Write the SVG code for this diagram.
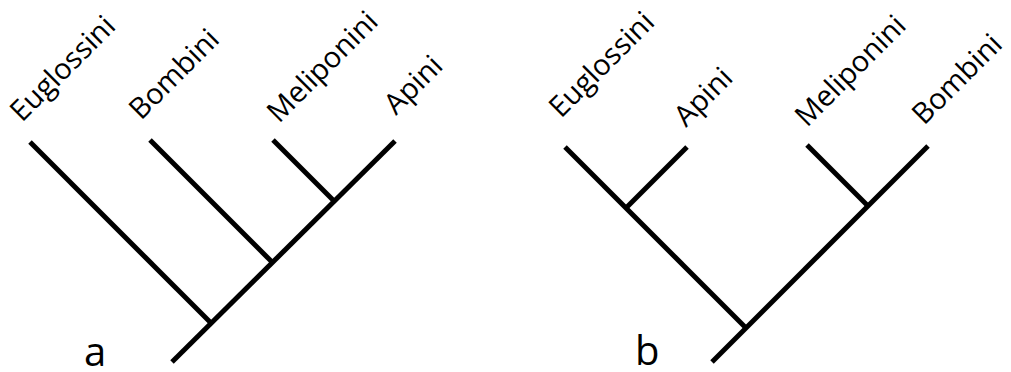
<svg xmlns="http://www.w3.org/2000/svg" width="1011" height="372" viewBox="0 0 1011 372">
<style>
.br{stroke:#000;stroke-width:5;fill:none;stroke-linecap:butt}
.lb{font-family:"Open Sans","Liberation Sans",sans-serif;font-size:29px;fill:#000}
.tl{font-family:"Open Sans","Liberation Sans",sans-serif;font-size:40px;fill:#000}
</style>
<rect width="1011" height="372" fill="#fff"/>
<g id="connectors">
<line class="br" x1="395" y1="141" x2="172" y2="362"/>
<line class="br" x1="30" y1="142" x2="211" y2="323"/>
<line class="br" x1="150" y1="140" x2="272" y2="262"/>
<line class="br" x1="273" y1="140" x2="334" y2="201"/>
<line class="br" x1="928" y1="146" x2="712" y2="362"/>
<line class="br" x1="565" y1="147" x2="746" y2="328"/>
<line class="br" x1="687" y1="147" x2="626" y2="208"/>
<line class="br" x1="807" y1="145" x2="868" y2="206"/>
</g>
<g id="tree-a">
<g id="a-euglossini"><text class="lb" transform="translate(22,123) rotate(-45)">Euglossini</text></g>
<g id="a-bombini"><text class="lb" transform="translate(141,121) rotate(-45)">Bombini</text></g>
<g id="a-meliponini"><text class="lb" transform="translate(279,124) rotate(-45)">Meliponini</text></g>
<g id="a-apini"><text class="lb" transform="translate(396,116) rotate(-45)">Apini</text></g>
<g id="a-label"><text class="tl" x="84" y="366">a</text></g>
</g>
<g id="tree-b">
<g id="b-euglossini"><text class="lb" transform="translate(561,119) rotate(-45)">Euglossini</text></g>
<g id="b-apini"><text class="lb" transform="translate(686,128) rotate(-45)">Apini</text></g>
<g id="b-meliponini"><text class="lb" transform="translate(807,128) rotate(-45)">Meliponini</text></g>
<g id="b-bombini"><text class="lb" transform="translate(924,126) rotate(-45)">Bombini</text></g>
<g id="b-label"><text class="tl" x="635" y="365">b</text></g>
</g>
</svg>
